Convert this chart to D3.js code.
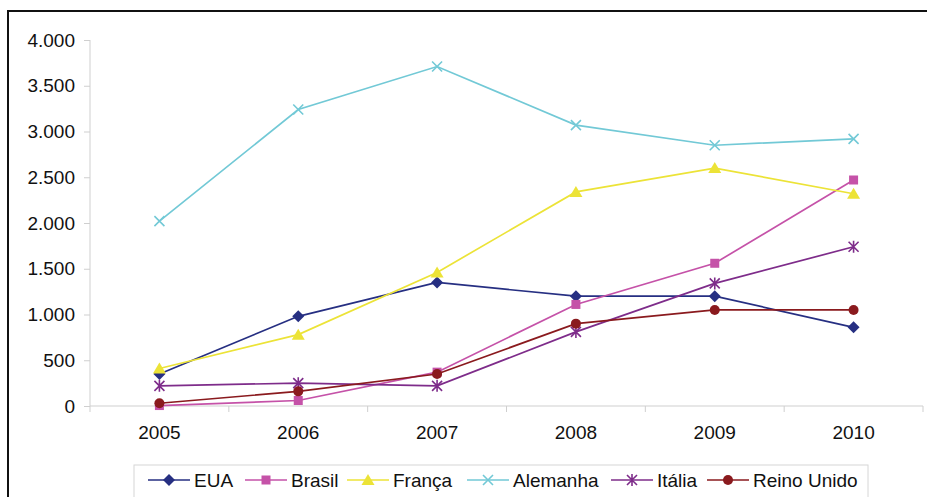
<!DOCTYPE html>
<html>
<head>
<meta charset="utf-8">
<script src="https://cdn.jsdelivr.net/npm/d3@7"></script>
<style>
  body { margin: 0; background: #fff; }
  text { font-family: "Liberation Sans", Arial, sans-serif; fill: #111; }
</style>
</head>
<body>
<div id="chart"></div>
<script>
const years = ["2005", "2006", "2007", "2008", "2009", "2010"];
const yTicks = [0, 500, 1000, 1500, 2000, 2500, 3000, 3500, 4000];

const eua = [350, 980, 1350, 1200, 1200, 860];
const brasil = [5, 60, 370, 1110, 1560, 2470];
const franca = [410, 780, 1460, 2340, 2600, 2320];
const alemanha = [2020, 3240, 3710, 3070, 2850, 2920];
const italia = [220, 250, 220, 810, 1340, 1740];
const reinoUnido = [30, 160, 350, 900, 1050, 1050];

const seriesNames = ["EUA", "Brasil", "França", "Alemanha", "Itália", "Reino Unido"];
const seriesColors = ["#262f82", "#c552a8", "#ece337", "#72c9d6", "#7e2c8a", "#8a1a1e"];
const seriesMarkers = ["diamond", "square", "triangle", "x", "asterisk", "circle"];
const seriesValues = [eua, brasil, franca, alemanha, italia, reinoUnido];

const series = seriesNames.map((name, i) => ({
  name: name,
  color: seriesColors[i],
  marker: seriesMarkers[i],
  values: seriesValues[i].map((v, j) => ({ year: years[j], value: v })),
}));

const W = 927, H = 497;
const fontSize = 19;
const svg = d3.select("#chart").append("svg").attr("width", W).attr("height", H);

// outer frame
svg.append("rect")
  .attr("x", 8).attr("y", 11)
  .attr("width", 940).attr("height", 520)
  .attr("fill", "none").attr("stroke", "#111").attr("stroke-width", 2);

const x = d3.scaleBand().domain(years).range([90, 923]);
const y = d3.scaleLinear().domain([0, 4000]).range([406, 40]);

// y axis
const yAxis = svg.append("g").attr("transform", "translate(90,0)")
  .call(d3.axisLeft(y).tickValues(yTicks).tickSize(6).tickPadding(9)
    .tickFormat((d) => d3.format(",")(d).replace(/,/g, ".")));
yAxis.select(".domain").attr("stroke", "#cfcfcf").attr("d", `M0,${y(4000)}V${y(0)}`);
yAxis.selectAll(".tick line").attr("stroke", "#cfcfcf");
yAxis.selectAll(".tick text").attr("font-size", fontSize)
  .style("font-family", "'Liberation Sans', Arial, sans-serif").attr("fill", "#111");

// x axis
const xAxis = svg.append("g").attr("transform", `translate(0,${y(0)})`)
  .call(d3.axisBottom(x).tickSize(0).tickPadding(20));
xAxis.select(".domain").attr("stroke", "#cfcfcf").attr("d", `M90,0H923`);
xAxis.selectAll(".tick text").attr("font-size", fontSize)
  .style("font-family", "'Liberation Sans', Arial, sans-serif").attr("fill", "#111");
// category separators
svg.append("g").selectAll("line")
  .data(years.concat(["end"]))
  .join("line")
  .attr("x1", (d, i) => 90 + i * x.bandwidth())
  .attr("x2", (d, i) => 90 + i * x.bandwidth())
  .attr("y1", y(0)).attr("y2", y(0) + 6)
  .attr("stroke", "#cfcfcf");

function drawMarker(g, type, color, cx, cy) {
  if (type === "diamond") {
    g.append("path").attr("d", `M${cx},${cy - 6}L${cx + 6},${cy}L${cx},${cy + 6}L${cx - 6},${cy}Z`).attr("fill", color);
  } else if (type === "square") {
    g.append("rect").attr("x", cx - 4.5).attr("y", cy - 4.5).attr("width", 9).attr("height", 9).attr("fill", color);
  } else if (type === "triangle") {
    g.append("path").attr("d", `M${cx},${cy - 6}L${cx + 6.5},${cy + 5}L${cx - 6.5},${cy + 5}Z`).attr("fill", color);
  } else if (type === "x") {
    g.append("path").attr("d", `M${cx - 5},${cy - 5}L${cx + 5},${cy + 5}M${cx - 5},${cy + 5}L${cx + 5},${cy - 5}`)
      .attr("stroke", color).attr("stroke-width", 1.6);
  } else if (type === "asterisk") {
    g.append("path").attr("d", `M${cx - 5},${cy - 5}L${cx + 5},${cy + 5}M${cx - 5},${cy + 5}L${cx + 5},${cy - 5}M${cx},${cy - 6}V${cy + 6}`)
      .attr("stroke", color).attr("stroke-width", 1.6);
  } else if (type === "circle") {
    g.append("circle").attr("cx", cx).attr("cy", cy).attr("r", 5).attr("fill", color);
  }
}

const line = d3.line()
  .x((d) => x(d.year) + x.bandwidth() / 2)
  .y((d) => y(d.value));

series.forEach((s) => {
  const g = svg.append("g");
  g.append("path").datum(s.values).attr("d", line)
    .attr("fill", "none").attr("stroke", s.color).attr("stroke-width", 1.7);
  s.values.forEach((d) => drawMarker(g, s.marker, s.color, x(d.year) + x.bandwidth() / 2, y(d.value)));
});

// legend
svg.append("rect")
  .attr("x", 134).attr("y", 465).attr("width", 734).attr("height", 40)
  .attr("fill", "#fff").attr("stroke", "#d6d6d6");
const legendX = [148, 245, 347, 467, 611, 707];
series.forEach((s, i) => {
  const g = svg.append("g");
  const lx = legendX[i];
  g.append("line").attr("x1", lx).attr("x2", lx + 42).attr("y1", 480).attr("y2", 480)
    .attr("stroke", s.color).attr("stroke-width", 1.7);
  drawMarker(g, s.marker, s.color, lx + 21, 480);
  g.append("text").attr("x", lx + 46).attr("y", 487).attr("font-size", fontSize).text(s.name);
});
</script>
</body>
</html>
